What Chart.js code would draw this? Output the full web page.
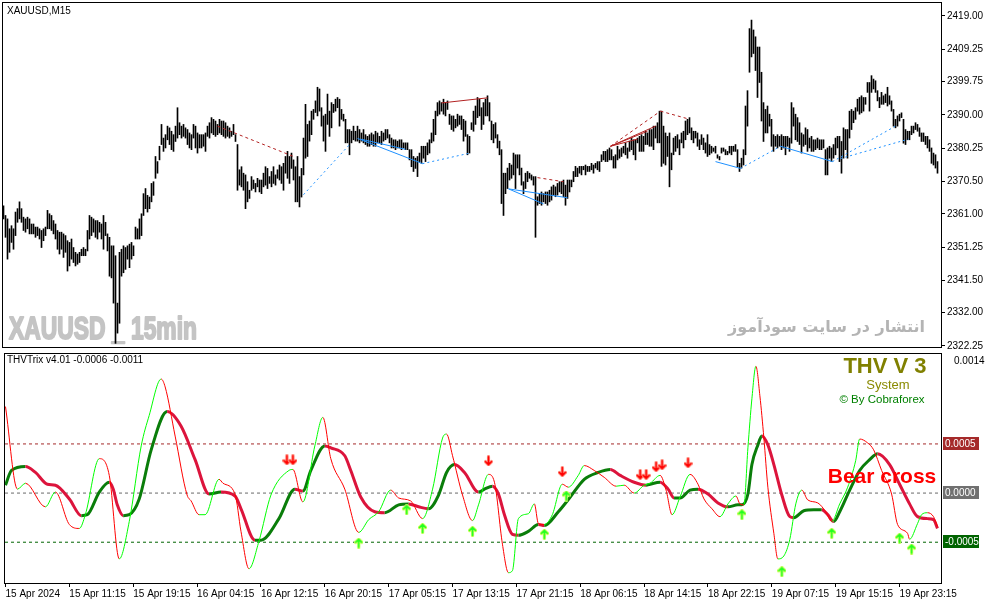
<!DOCTYPE html>
<html>
<head>
<meta charset="utf-8">
<script src="https://cdn.jsdelivr.net/npm/chart.js@4.4.1/dist/chart.umd.min.js"></script>
<style>
  html, body { margin: 0; padding: 0; background: #fff; }
  #wrap { position: relative; width: 987px; height: 605px; overflow: hidden; background: #fff; }
  #pricePane { position: absolute; left: 0; top: 0; width: 987px; height: 349px; }
  #trixPane { position: absolute; left: 0; top: 349px; width: 987px; height: 256px; }
</style>
</head>
<body>
<div id="wrap">
  <canvas id="pricePane" width="987" height="349"></canvas>
  <canvas id="trixPane" width="987" height="256"></canvas>
</div>
<script>
/* XAUUSD M15 bars: high / low per bar */
const barHigh = [
  2363.3,2360.5,2359.5,2356.6,2357.5,2356.6,2361.5,2362.5,2364.5,2362.5,
  2360.0,2359.5,2360.0,2359.5,2358.0,2358.0,2357.1,2357.1,2356.6,2356.1,
  2356.6,2357.1,2362.0,2361.0,2360.5,2359.0,2358.0,2356.1,2355.6,2355.6,
  2355.1,2354.6,2353.1,2352.6,2353.6,2351.1,2349.7,2349.2,2349.7,2350.6,
  2351.1,2350.6,2356.1,2360.5,2360.0,2359.5,2359.0,2359.0,2358.5,2358.0,
  2360.5,2358.5,2355.1,2354.1,2351.6,2351.6,2348.7,2334.8,2349.7,2350.6,
  2351.6,2351.1,2351.6,2352.1,2352.6,2351.6,2357.1,2356.6,2359.5,2361.0,
  2366.9,2368.4,2366.4,2365.9,2369.9,2370.4,2377.8,2376.3,2380.8,2387.2,
  2383.2,2384.2,2386.7,2386.2,2385.2,2384.2,2386.7,2392.1,2387.7,2386.7,
  2387.2,2386.2,2385.7,2384.7,2384.2,2387.2,2386.7,2384.7,2384.2,2384.2,
  2384.2,2384.7,2386.7,2387.7,2389.2,2388.7,2388.2,2387.2,2388.7,2388.2,
  2388.2,2387.7,2386.7,2386.2,2385.2,2387.2,2384.2,
  2381.3,2373.9,2374.8,2372.9,2372.4,2370.4,2367.9,2371.9,2370.9,2369.9,
  2371.4,2370.9,2370.9,2372.9,2374.8,2374.3,2371.9,2373.4,2374.8,2372.4,
  2373.9,2375.3,2374.8,2375.8,2377.8,2379.3,2377.8,2378.8,2376.8,2374.8,
  2377.8,2371.9,2374.3,2383.2,2393.1,2387.2,2388.2,2391.1,2391.6,2394.1,
  2398.1,2397.6,2392.1,2389.7,2390.2,2396.1,2391.1,2393.6,2393.1,2394.6,
  2395.1,2394.6,2391.6,2390.2,2388.7,2385.7,2385.7,2385.2,2386.7,2385.2,
  2386.7,2385.7,2384.7,2385.7,2384.2,2383.7,2384.2,2384.7,2384.2,2385.2,
  2384.7,2383.7,2385.2,2384.7,2385.7,2385.7,2384.2,2383.2,2382.7,2382.7,
  2382.3,2382.7,2382.7,2381.8,2381.8,2381.8,2379.8,2379.8,2377.8,2377.3,
  2377.8,2378.8,2380.8,2380.8,2380.8,2381.8,2382.7,2384.7,2388.7,2391.1,
  2393.6,2394.1,2393.6,2394.6,2393.6,2394.1,2390.2,2389.7,2389.7,2388.7,
  2390.2,2389.7,2389.7,2388.7,2388.2,2384.2,2383.7,2387.7,2391.1,2392.6,
  2395.1,2394.6,2392.1,
  2393.6,2394.6,2395.6,2393.6,2388.2,2387.2,2387.7,2384.2,2382.3,2379.8,
  2372.9,2372.9,2374.4,2375.8,2375.3,2378.8,2378.3,2378.3,2378.3,2374.4,
  2370.4,2372.9,2373.4,2372.9,2372.4,2371.9,2371.9,2366.0,2366.9,2367.4,
  2366.9,2367.4,2367.4,2367.9,2368.9,2369.4,2368.9,2369.9,2370.4,2370.4,
  2370.9,2369.4,2370.9,2370.9,2370.9,2373.4,2374.9,2374.4,2374.9,2374.9,
  2374.9,2375.3,2374.9,2374.9,2375.8,2375.3,2375.8,2376.3,2376.3,2378.3,
  2379.3,2379.3,2379.8,2380.3,2379.8,2377.8,2378.3,2380.8,2379.8,2380.3,
  2380.8,2381.8,2380.3,2382.3,2383.2,2382.7,2382.7,2383.2,2383.7,2384.2,
  2383.7,2385.2,2384.7,2385.7,2385.7,2386.7,2386.7,2387.7,2391.1,2391.1,
  2386.7,2384.7,2383.7,2384.7,2378.8,2383.2,2383.7,2384.2,2382.7,2384.7,
  2385.2,2388.2,2388.7,2389.2,2386.2,2385.2,2385.2,2384.7,2382.7,2384.2,
  2383.2,2381.8,2384.2,2381.3,2380.8,2380.3,2380.8,2378.3,2377.8,2380.3,
  2380.3,2379.8,
  2379.3,2380.8,2380.8,2380.8,2381.3,2379.8,2375.8,2377.3,2379.8,2392.6,
  2397.1,2415.3,2417.8,2414.9,2412.9,2409.9,2409.9,2402.5,2393.6,2391.6,
  2392.6,2390.2,2388.7,2384.2,2383.7,2384.2,2383.7,2384.2,2383.7,2383.7,
  2383.7,2383.2,2393.6,2392.1,2390.2,2389.2,2387.7,2384.7,2384.2,2386.2,
  2385.7,2383.2,2383.7,2382.7,2382.7,2383.2,2382.7,2382.7,2382.7,2379.8,
  2380.3,2380.8,2380.3,2381.3,2383.2,2383.7,2383.7,2382.2,2386.2,2385.7,
  2385.7,2391.1,2391.6,2391.1,2392.1,2394.6,2395.1,2395.6,2395.1,2395.1,
  2399.5,2399.5,2401.5,2400.5,2400.0,2397.1,2395.1,2396.6,2395.6,2396.1,
  2398.1,2395.6,2394.1,2391.6,2388.7,2389.7,2390.2,2390.6,2388.7,2385.7,
  2385.2,2385.2,2386.7,2386.7,2387.7,2387.2,2386.2,2384.7,2384.7,2383.7,
  2383.7,2382.7,2380.3,2378.8,2378.3,2376.3
];
const barLow = [
  2359.5,2354.1,2347.7,2349.7,2352.6,2350.6,2354.6,2358.5,2359.5,2358.5,
  2356.1,2355.6,2356.6,2355.1,2355.1,2355.1,2354.1,2354.6,2353.6,2351.1,
  2353.1,2354.6,2356.6,2356.6,2356.1,2355.1,2353.6,2350.6,2349.2,2350.6,
  2348.2,2349.7,2344.2,2345.7,2347.7,2346.7,2345.7,2346.2,2346.7,2348.7,
  2348.7,2348.7,2350.1,2353.6,2354.6,2355.6,2354.1,2353.6,2355.6,2353.6,
  2350.6,2354.6,2350.1,2342.7,2342.2,2334.8,2323.0,2326.0,2328.9,2342.7,
  2343.7,2344.7,2347.7,2345.2,2347.7,2348.7,2353.6,2353.6,2353.6,2354.6,
  2360.5,2362.5,2361.5,2362.5,2364.5,2366.4,2371.4,2372.9,2376.8,2381.3,
  2379.3,2380.3,2382.7,2381.3,2379.8,2379.3,2382.2,2383.2,2384.2,2383.2,
  2383.7,2383.2,2381.3,2380.3,2379.8,2383.2,2380.3,2378.8,2380.3,2380.3,
  2380.8,2379.3,2383.7,2383.2,2384.7,2384.2,2383.7,2384.2,2384.7,2384.2,
  2383.7,2383.2,2383.7,2383.2,2383.7,2384.2,2382.2,
  2367.9,2369.4,2368.9,2367.9,2362.5,2364.5,2365.5,2367.9,2368.4,2367.4,
  2368.9,2367.4,2366.9,2368.9,2369.4,2368.4,2369.9,2368.9,2369.9,2369.4,
  2371.4,2370.9,2369.9,2367.9,2372.9,2371.4,2369.9,2374.3,2370.9,2364.5,
  2364.5,2363.0,2365.9,2372.4,2377.3,2377.8,2382.3,2384.2,2388.7,2390.7,
  2389.7,2391.1,2386.7,2382.3,2379.3,2387.2,2383.7,2386.2,2390.7,2391.1,
  2392.1,2386.7,2388.7,2388.2,2381.8,2381.8,2378.3,2381.8,2382.7,2382.3,
  2382.3,2381.8,2382.3,2381.8,2381.3,2380.8,2380.8,2381.3,2380.8,2380.8,
  2381.8,2381.8,2381.3,2382.3,2382.7,2383.2,2381.8,2380.3,2380.3,2379.8,
  2380.3,2380.3,2379.8,2380.3,2379.8,2379.8,2376.8,2374.8,2373.4,2374.3,
  2371.9,2376.3,2375.8,2377.3,2376.3,2378.3,2378.8,2381.8,2382.3,2384.2,
  2389.7,2390.2,2391.1,2390.2,2389.7,2391.6,2387.2,2385.7,2385.2,2386.2,
  2386.7,2387.2,2385.7,2382.3,2383.7,2378.3,2378.8,2385.7,2385.2,2387.2,
  2389.2,2389.7,2385.7,
  2387.2,2389.7,2389.7,2388.2,2382.7,2381.8,2383.2,2380.3,2378.3,2364.0,
  2360.5,2366.9,2368.4,2370.9,2371.4,2372.4,2368.4,2374.4,2372.4,2369.4,
  2366.9,2368.4,2370.4,2371.4,2370.9,2369.4,2354.1,2363.5,2364.0,2363.5,
  2364.5,2364.0,2363.5,2364.5,2365.0,2366.5,2366.0,2366.5,2367.4,2366.9,
  2366.0,2363.5,2365.5,2367.4,2368.9,2370.4,2371.9,2371.9,2372.9,2372.4,
  2373.9,2372.4,2373.4,2373.4,2373.9,2372.9,2374.4,2373.9,2373.4,2376.3,
  2376.8,2376.3,2376.3,2376.8,2376.8,2374.4,2374.4,2376.8,2377.3,2377.8,
  2378.8,2378.3,2377.3,2379.3,2379.8,2378.3,2376.8,2381.8,2379.3,2379.3,
  2379.3,2381.3,2381.3,2380.8,2380.8,2379.8,2383.2,2381.8,2381.8,2374.9,
  2375.8,2375.3,2377.8,2368.9,2373.9,2378.3,2379.3,2380.3,2378.3,2381.8,
  2380.3,2382.7,2384.2,2384.7,2382.7,2381.8,2383.2,2380.8,2379.8,2381.3,
  2379.8,2378.8,2377.8,2378.3,2378.8,2379.3,2378.8,2377.3,2376.8,2378.8,
  2379.3,2378.3,
  2378.3,2378.8,2378.3,2379.3,2379.3,2374.8,2373.4,2374.4,2375.3,2378.3,
  2386.7,2402.5,2407.0,2408.0,2403.0,2395.1,2399.5,2388.2,2382.2,2384.7,
  2384.7,2386.7,2380.8,2379.3,2380.8,2380.3,2380.8,2379.8,2380.3,2378.3,
  2380.8,2379.3,2381.7,2386.7,2382.7,2382.2,2381.3,2378.8,2380.8,2381.3,
  2379.3,2380.3,2379.3,2379.3,2379.8,2380.3,2379.8,2379.8,2380.3,2372.4,
  2372.4,2377.3,2376.3,2377.3,2378.3,2380.3,2376.3,2372.9,2377.3,2379.8,
  2377.3,2383.2,2385.7,2387.7,2388.7,2391.1,2390.2,2390.6,2391.1,2393.1,
  2396.6,2391.1,2396.6,2397.6,2396.6,2394.1,2392.1,2393.1,2393.1,2393.6,
  2392.6,2393.1,2391.1,2386.7,2386.2,2386.7,2388.2,2389.2,2381.7,2381.3,
  2382.7,2382.7,2384.2,2384.7,2385.7,2385.2,2383.7,2382.2,2382.2,2381.3,
  2380.3,2379.3,2375.8,2375.3,2374.4,2372.9
];
const priceTicks = [2419.00, 2409.25, 2399.75, 2390.00, 2380.25, 2370.50, 2361.00, 2351.25, 2341.50, 2332.00, 2322.25];

/* trend lines on the price pane: [bar, price, bar, price] */
const redSolid = [[219, 2393.5, 242, 2395.0], [303.5, 2380.8, 326, 2386.7], [303.5, 2380.8, 322, 2385.2], [303.5, 2380.8, 317, 2382.9]];
const redDashed = [[107, 2386.7, 145, 2377.8], [267, 2371.6, 280, 2370.4], [303.5, 2380.8, 328.5, 2391.1], [328.5, 2391.1, 342.5, 2388.8]];
const blueSolid = [[177, 2383.1, 209.5, 2375.7], [178.5, 2382.9, 201, 2379.9], [252.5, 2368.3, 270, 2363.9],
                   [252.5, 2368.3, 282, 2365.7], [356, 2376.3, 368.5, 2374.3], [388.5, 2380.8, 414.5, 2376.3]];
const blueDashed = [[150, 2366.6, 173.5, 2381.6], [209.5, 2375.7, 232.5, 2378.7], [368.5, 2374.3, 388.5, 2380.8],
                    [414.5, 2376.3, 446, 2386.7], [418.5, 2377.2, 452.5, 2382.9]];

/* time axis */
const timeIdx = [0, 32, 64, 96, 128, 160, 192, 224, 256, 288, 320, 352, 384, 416, 448];
const timeLabels = ['15 Apr 2024', '15 Apr 11:15', '15 Apr 19:15', '16 Apr 04:15', '16 Apr 12:15', '16 Apr 20:15',
  '17 Apr 05:15', '17 Apr 13:15', '17 Apr 21:15', '18 Apr 06:15', '18 Apr 14:15', '18 Apr 22:15',
  '19 Apr 07:15', '19 Apr 15:15', '19 Apr 23:15'];

/* THVTrix: fast (thin) and slow (thick) lines, bar index + value */
const fastIdx = [0,6,10,20,25,32,37,40,47,52,57,62,68,72,78,80,85,91,93,97,100,107,109,115,118,122,127,133,142,144,
  149,155,159,163,170,177,182,187,193,197,203,209,214,219,221,224,229,234,237,242,245,249,252,254,257,262,265,267,270,274,
  279,282,287,290,295,300,306,310,315,320,323,328,331,334,338,343,347,350,354,358,362,366,368,370,372,374,376,378,380,382,
  385,387,390,393,396,399,402,407,411,414,418,422,426,428,432,435,439,444,447,452,453,457,459,462,465,467];
const fastVal = [88e-5,4e-5,10e-5,-14e-5,1e-5,-32e-5,-36e-5,-22e-5,35e-5,18e-5,-67e-5,-29e-5,48e-5,79e-5,116e-5,108e-5,58e-5,-2e-5,-8e-5,-22e-5,
  -22e-5,14e-5,10e-5,-1e-5,-39e-5,-77e-5,-49e-5,-2e-5,23e-5,24e-5,-9e-5,48e-5,77e-5,35e-5,4e-5,-40e-5,-27e-5,-19e-5,3e-5,-5e-5,
  -8e-5,-26e-5,4e-5,56e-5,60e-5,38e-5,-2e-5,-28e-5,-12e-5,19e-5,11e-5,-52e-5,-81e-5,-79e-5,-26e-5,-21e-5,-11e-5,-31e-5,-32e-5,-22e-5,
  9e-5,6e-5,18e-5,28e-5,23e-5,16e-5,7e-5,8e-5,0,8e-5,10e-5,18e-5,3e-5,-22e-5,-4e-5,19e-5,9e-5,-6e-5,-16e-5,-24e-5,
  -11e-5,-3e-5,-11e-5,-12e-5,46e-5,96e-5,129e-5,99e-5,56e-5,6e-5,-41e-5,-67e-5,-64e-5,-47e-5,-11e-5,3e-5,-7e-5,-10e-5,-19e-5,-29e-5,
  -11e-5,6e-5,33e-5,55e-5,51e-5,44e-5,23e-5,-1e-5,-32e-5,-41e-5,-47e-5,-31e-5,-22e-5,-20e-5,-24e-5,-34e-5];
const slowIdx = [0,3,10,15,21,25,32,38,41,47,52,54,56,59,62,67,73,81,88,95,102,108,115,118,125,128,137,145,149,153,
  160,163,170,173,178,185,190,197,202,207,212,217,221,225,230,237,240,244,247,250,254,257,262,267,270,277,283,290,297,303,
  308,315,321,323,328,332,335,338,343,347,352,357,362,367,369,372,374,377,379,382,385,389,393,395,400,405,409,412,415,418,
  423,428,433,437,443,448,453,457,462,465,467];
const slowVal = [8e-5,23e-5,27e-5,21e-5,9e-5,8e-5,-6e-5,-23e-5,-22e-5,1e-5,11e-5,4e-5,-12e-5,-23e-5,-22e-5,-6e-5,44e-5,83e-5,68e-5,34e-5,
  -1e-5,1e-5,-3e-5,-16e-5,-48e-5,-48e-5,-26e-5,4e-5,2e-5,23e-5,48e-5,46e-5,38e-5,23e-5,-4e-5,-19e-5,-20e-5,-12e-5,-11e-5,-14e-5,
  -16e-5,-2e-5,21e-5,29e-5,21e-5,1e-5,4e-5,7e-5,-1e-5,-22e-5,-42e-5,-43e-5,-39e-5,-32e-5,-33e-5,-19e-5,-4e-5,14e-5,21e-5,24e-5,
  18e-5,11e-5,8e-5,9e-5,11e-5,4e-5,-5e-5,-5e-5,3e-5,4e-5,-1e-5,-10e-5,-14e-5,-12e-5,-12e-5,-1e-5,29e-5,49e-5,58e-5,49e-5,
  29e-5,-2e-5,-24e-5,-25e-5,-18e-5,-17e-5,-17e-5,-22e-5,-29e-5,-19e-5,3e-5,23e-5,34e-5,40e-5,29e-5,9e-5,-11e-5,-24e-5,-26e-5,-27e-5,
  -36e-5];

/* signal arrows */
const sellIdx = [141, 144, 242, 279, 318, 321, 326, 329, 342];
const sellVal = [34e-5, 34e-5, 33e-5, 22e-5, 19e-5, 19e-5, 27e-5, 29e-5, 31e-5];
const buyIdx = [177, 201, 209, 234, 270, 281, 369, 389, 414, 448, 454];
const buyVal = [-51e-5, -17e-5, -36e-5, -39e-5, -42e-5, -3e-5, -22e-5, -80e-5, -41e-5, -46e-5, -57e-5];

const levels = [0.0005, 0, -0.0005];
const levelColors = ['#a52a2a', '#707070', '#006400'];
const trixTicks = [0.0014, -0.0009];

const xMin = -0.25, xMax = 468.75;
Chart.defaults.font.family = 'Liberation Sans';
Chart.defaults.font.size = 10;
Chart.defaults.color = '#000';

const tickFont = { family: 'Liberation Sans', size: 10 };

function trendSets(list, color, dash) {
    return list.map(s => ({
        type: 'line',
        data: [{ x: s[0], y: s[1] }, { x: s[2], y: s[3] }],
        borderColor: color,
        borderWidth: 1,
        borderDash: dash,
        pointRadius: 0,
        fill: false
    }));
}

function makeArrow(up, main, edge) {
    const c = document.createElement('canvas');
    c.width = 9; c.height = 11;
    const g = c.getContext('2d');
    g.lineCap = 'round'; g.lineJoin = 'round';
    const path = () => {
        g.beginPath();
        if (up) {
            g.moveTo(4.5, 9.5); g.lineTo(4.5, 1.5);
            g.moveTo(1.5, 4.5); g.lineTo(4.5, 1.5); g.lineTo(7.5, 4.5);
        } else {
            g.moveTo(4.5, 1.5); g.lineTo(4.5, 9.5);
            g.moveTo(1.5, 6.5); g.lineTo(4.5, 9.5); g.lineTo(7.5, 6.5);
        }
    };
    path(); g.strokeStyle = edge; g.lineWidth = 3.2; g.stroke();
    path(); g.strokeStyle = main; g.lineWidth = 1.7; g.stroke();
    return c;
}

function frame(chart) {
    const { ctx, chartArea: a } = chart;
    ctx.save();
    ctx.strokeStyle = '#000';
    ctx.lineWidth = 1;
    ctx.strokeRect(a.left - 0.5, a.top - 0.5, a.right - a.left + 1, a.bottom - a.top + 1);
    ctx.restore();
}

/*  Price pane  */
const pricePanePlugin = {
    id: 'pricePaneText',
    beforeDatasetsDraw(chart) {
        const ctx = chart.ctx;
        ctx.save();
        ctx.fillStyle = '#c4c4c4';
        ctx.strokeStyle = '#c4c4c4';
        ctx.lineWidth = 2;
        ctx.lineJoin = 'round';
        ctx.font = 'bold 32px "Liberation Sans"';
        const txt = 'XAUUSD _ 15min';
        const w = ctx.measureText(txt).width;
        ctx.translate(9, 339);
        ctx.scale(188 / w, 1);
        ctx.strokeText(txt, 0, 0);
        ctx.fillText(txt, 0, 0);
        ctx.restore();

        ctx.save();
        ctx.fillStyle = '#b4b4b4';
        ctx.font = 'bold 16px "DejaVu Sans"';
        ctx.textAlign = 'right';
        ctx.fillText('انتشار در سایت سودآموز', 925, 332);
        ctx.restore();
    },
    afterDraw(chart) {
        frame(chart);
        const ctx = chart.ctx;
        ctx.save();
        ctx.fillStyle = '#000';
        ctx.font = '10px "Liberation Sans"';
        ctx.fillText('XAUUSD,M15', 7, 14);
        ctx.restore();
    }
};

new Chart(document.getElementById('pricePane'), {
    type: 'bar',
    data: {
        datasets: [
            ...trendSets(redSolid, '#b22222', []),
            ...trendSets(redDashed, '#b22222', [3, 3]),
            ...trendSets(blueSolid, '#1e90ff', []),
            ...trendSets(blueDashed, '#1e90ff', [2, 3]),
            {
                type: 'bar',
                data: barHigh.map((h, k) => ({ x: k, y: [barLow[k], h] })),
                backgroundColor: '#000',
                barThickness: 1,
                borderWidth: 0,
                grouped: false
            }
        ]
    },
    options: {
        responsive: false,
        animation: false,
        devicePixelRatio: 1,
        layout: { padding: { left: 3, top: 3, right: 0, bottom: 2 } },
        plugins: { legend: { display: false }, tooltip: { enabled: false } },
        scales: {
            x: { type: 'linear', display: false, offset: false, min: xMin, max: xMax },
            y: {
                position: 'right',
                min: 2321.93,
                max: 2422.81,
                afterBuildTicks: s => { s.ticks = priceTicks.map(v => ({ value: v })); },
                afterFit: s => { s.width = 46; s.paddingTop = 0; s.paddingBottom = 0; },
                ticks: { callback: v => v.toFixed(2), color: '#000', font: tickFont, padding: 2 },
                grid: { drawOnChartArea: false, drawTicks: true, tickLength: 4, color: '#000' },
                border: { display: false }
            }
        }
    },
    plugins: [pricePanePlugin]
});

/*  THVTrix pane  */
const downArrow = makeArrow(false, '#ff0000', '#ff9a8a');
const upArrow = makeArrow(true, '#22ff22', '#d6ff5a');

const trixPanePlugin = {
    id: 'trixPaneText',
    afterDraw(chart) {
        frame(chart);
        const ctx = chart.ctx;
        const y = chart.scales.y;
        ctx.save();
        ctx.fillStyle = '#000';
        ctx.font = '10px "Liberation Sans"';
        ctx.fillText('THVTrix v4.01 -0.0006 -0.0011', 7, 14);

        ctx.textAlign = 'center';
        ctx.fillStyle = '#808000';
        ctx.font = 'bold 22px "Liberation Sans"';
        ctx.fillText('THV V 3', 885, 24);
        ctx.fillStyle = '#8a8a00';
        ctx.font = '13px "Liberation Sans"';
        ctx.fillText('System', 888, 40);
        ctx.fillStyle = '#008000';
        ctx.font = '11.5px "Liberation Sans"';
        ctx.fillText('\u00a9 By Cobraforex', 882, 54);
        ctx.fillStyle = '#ff0000';
        ctx.font = 'bold 21px "Liberation Sans"';
        ctx.fillText('Bear cross', 882, 134);

        ctx.textAlign = 'left';
        ctx.textBaseline = 'middle';
        ctx.font = '10px "Liberation Sans"';
        levels.forEach((v, k) => {
            const py = Math.round(y.getPixelForValue(v));
            ctx.fillStyle = levelColors[k];
            ctx.fillRect(943, py - 7, 36, 13);
            ctx.fillStyle = '#fff';
            ctx.fillText(v.toFixed(4), 945, py);
        });
        ctx.restore();
    }
};

const slopeColor = (up, down) => ctx => ctx.p1.parsed.y >= ctx.p0.parsed.y ? up : down;

new Chart(document.getElementById('trixPane'), {
    type: 'line',
    data: {
        datasets: [
            {
                type: 'scatter',
                data: sellIdx.map((v, k) => ({ x: v, y: sellVal[k] })),
                pointStyle: downArrow,
                yAxisID: 'y'
            },
            {
                type: 'scatter',
                data: buyIdx.map((v, k) => ({ x: v, y: buyVal[k] })),
                pointStyle: upArrow,
                yAxisID: 'y'
            },
            {
                data: fastIdx.map((v, k) => ({ x: v, y: fastVal[k] })),
                borderWidth: 1,
                borderColor: '#ff0000',
                segment: { borderColor: slopeColor('#00ff00', '#ff0000') },
                cubicInterpolationMode: 'monotone',
                pointRadius: 0,
                fill: false,
                yAxisID: 'y'
            },
            {
                data: slowIdx.map((v, k) => ({ x: v, y: slowVal[k] })),
                borderWidth: 3,
                borderColor: '#dc143c',
                segment: { borderColor: slopeColor('#0a7d0a', '#dc143c') },
                cubicInterpolationMode: 'monotone',
                pointRadius: 0,
                fill: false,
                yAxisID: 'y'
            },
            ...levels.map((v, k) => ({
                data: [{ x: xMin, y: v }, { x: xMax, y: v }],
                borderColor: levelColors[k] === '#707070' ? '#6a6a6a' : levelColors[k],
                borderWidth: 1,
                borderDash: [3, 3],
                pointRadius: 0,
                fill: false,
                yAxisID: 'y'
            }))
        ]
    },
    options: {
        responsive: false,
        animation: false,
        devicePixelRatio: 1,
        layout: { padding: { left: 3, top: 1, right: 0, bottom: 0 } },
        plugins: { legend: { display: false }, tooltip: { enabled: false } },
        scales: {
            x: {
                type: 'linear',
                offset: false,
                min: xMin,
                max: xMax,
                afterBuildTicks: s => { s.ticks = timeIdx.map(v => ({ value: v })); },
                afterFit: s => { s.height = 22; s.paddingLeft = 0; s.paddingRight = 0; },
                ticks: {
                    align: 'start',
                    autoSkip: false,
                    maxRotation: 0,
                    minRotation: 0,
                    padding: 1,
                    labelOffset: 0,
                    color: '#000',
                    font: tickFont,
                    callback: (v, k) => timeLabels[k]
                },
                grid: { drawOnChartArea: false, drawTicks: true, tickLength: 4, color: '#000' },
                border: { display: false }
            },
            yLow: {
                position: 'right',
                weight: 0,
                min: -0.000915,
                max: 0.001415,
                afterBuildTicks: s => { s.ticks = [{ value: trixTicks[1] }]; },
                afterFit: s => { s.width = 0; s.paddingTop = 0; s.paddingBottom = 0; },
                ticks: { callback: v => v.toFixed(4), labelOffset: -4, padding: 5, color: '#000', font: tickFont },
                grid: { display: false },
                border: { display: false }
            },
            y: {
                position: 'right',
                weight: 1,
                min: -0.000915,
                max: 0.001415,
                afterBuildTicks: s => { s.ticks = [{ value: trixTicks[0] }]; },
                afterFit: s => { s.width = 46; s.paddingTop = 0; s.paddingBottom = 0; },
                ticks: { callback: v => v.toFixed(4), labelOffset: 6, padding: 5, color: '#000', font: tickFont },
                grid: { display: false },
                border: { display: false }
            }
        }
    },
    plugins: [trixPanePlugin]
});
</script>
</body>
</html>
